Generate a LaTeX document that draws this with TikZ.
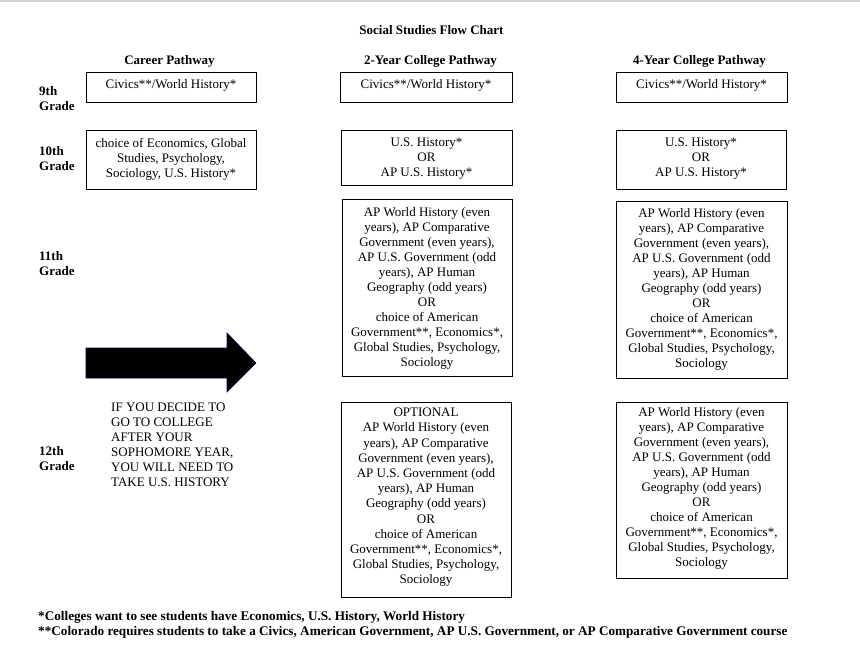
\documentclass[tikz,border=0pt]{standalone}
\usepackage{fontspec}
\setmainfont{Liberation Serif}
\begin{document}
\begin{tikzpicture}[x=1pt,y=-1pt,
  every node/.style={font=\fontsize{13}{15}\selectfont, inner sep=0pt},
  box/.style={draw, line width=0.8pt, align=center},
  heading/.style={font=\fontsize{13}{15}\selectfont\bfseries},
  grade/.style={font=\fontsize{13}{15}\selectfont\bfseries, align=left, anchor=west},
  foot/.style={font=\fontsize{13.2}{15}\selectfont\bfseries, anchor=west}
]
\useasboundingbox (0,0) rectangle (860,665);
\fill[white] (0,0) rectangle (860,665);
\draw[gray!35, line width=1.5pt] (0,0.75) -- (860,0.75);

% title and headings
\node[heading] (title) at (431.5,30) {Social Studies Flow Chart};
\node[heading] (hcar) at (169.5,61) {Career Pathway};
\node[heading] (htwo) at (430.5,61) {2-Year College Pathway};
\node[heading] (hfour) at (699.5,61) {4-Year College Pathway};

% grade labels
\node[grade] (g9) at (39,98.5) {9th\\Grade};
\node[grade] (g10) at (39,158.5) {10th\\Grade};
\node[grade] (g11) at (39,263.5) {11th\\Grade};
\node[grade] (g12) at (39,459) {12th\\Grade};

% 9th grade
\node[box, minimum width=170, minimum height=30, text depth=6pt] (c9) at (171,87) {Civics**/World History*};
\node[box, minimum width=172, minimum height=30, text depth=6pt] (t9) at (426,87) {Civics**/World History*};
\node[box, minimum width=171, minimum height=30, text depth=6pt] (f9) at (701.5,87) {Civics**/World History*};

% 10th grade
\node[box, minimum width=170, minimum height=59, text depth=4pt] (c10) at (171,159.5) {choice of Economics, Global\\Studies, Psychology,\\Sociology, U.S. History*};
\node[box, minimum width=171, minimum height=55, text depth=1pt] (t10) at (426.5,157.5) {U.S. History*\\OR\\AP U.S. History*};
\node[box, minimum width=170, minimum height=59, text depth=4pt] (f10) at (701,159.5) {U.S. History*\\OR\\AP U.S. History*};

% 11th grade
\node[box, minimum width=170, minimum height=177, text depth=2pt] (t11) at (427,287.5) {AP World History (even\\years), AP Comparative\\Government (even years),\\AP U.S. Government (odd\\years), AP Human\\Geography (odd years)\\OR\\choice of American\\Government**, Economics*,\\Global Studies, Psychology,\\Sociology};
\node[box, minimum width=171, minimum height=177, text depth=4pt] (f11) at (701.5,289.5) {AP World History (even\\years), AP Comparative\\Government (even years),\\AP U.S. Government (odd\\years), AP Human\\Geography (odd years)\\OR\\choice of American\\Government**, Economics*,\\Global Studies, Psychology,\\Sociology};

% 12th grade
\node[box, minimum width=170, minimum height=195, text depth=7pt, font=\fontsize{13}{15.2}\selectfont] (t12) at (426,499.5) {OPTIONAL\\AP World History (even\\years), AP Comparative\\Government (even years),\\AP U.S. Government (odd\\years), AP Human\\Geography (odd years)\\OR\\choice of American\\Government**, Economics*,\\Global Studies, Psychology,\\Sociology};
\node[box, minimum width=171, minimum height=176, text depth=6pt] (f12) at (701.5,490) {AP World History (even\\years), AP Comparative\\Government (even years),\\AP U.S. Government (odd\\years), AP Human\\Geography (odd years)\\OR\\choice of American\\Government**, Economics*,\\Global Studies, Psychology,\\Sociology};

% big arrow
\filldraw[fill=black, draw=black!75!blue, line width=0.6pt]
  (86,348) -- (227,348) -- (227,333) -- (256,363) -- (227,392) -- (227,378) -- (86,378) -- cycle;
\node[align=left, anchor=west] (note) at (111,445) {IF YOU DECIDE TO\\GO TO COLLEGE\\AFTER YOUR\\SOPHOMORE YEAR,\\YOU WILL NEED TO\\TAKE U.S. HISTORY};

% footnotes
\node[foot] (fn1) at (38,617) {*Colleges want to see students have Economics, U.S. History, World History};
\node[foot] (fn2) at (38,632) {**Colorado requires students to take a Civics, American Government, AP U.S. Government, or AP Comparative Government course};
\end{tikzpicture}
\end{document}
